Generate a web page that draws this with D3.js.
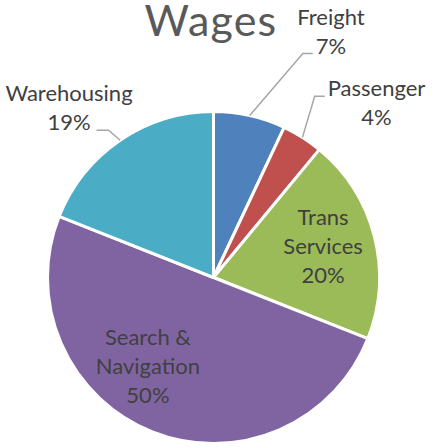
<!DOCTYPE html>
<html>
<head>
<meta charset="utf-8">
<script src="https://cdn.jsdelivr.net/npm/d3@7"></script>
<style>
  body { margin: 0; background: #fff; }
  text { font-family: Lato, "Open Sans", sans-serif; }
</style>
</head>
<body>
<div id="chart"></div>
<script>
// pie data, clockwise from 12 o'clock
const categories = ['Freight', 'Passenger', 'Trans Services', 'Search & Navigation', 'Warehousing'];
const shares = [7, 4, 20, 50, 19];
const labelLines = [['Freight'], ['Passenger'], ['Trans', 'Services'], ['Search &', 'Navigation'], ['Warehousing']];
const colors = ['#4f81bd', '#c0504d', '#9bbb59', '#8064a2', '#4bacc6'];

const w = 432;
const h = 447;
const cx = 213.5, cy = 277.5, radius = 166;
const lineH = 29;

// where each label block sits: angle (deg, clockwise from top) and distance from centre
const labelLayout = [
  { angle: 25.5, dist: 273, outside: true, leaderLine: 1, side: 'left' },
  { angle: 43, dist: 239, outside: true, leaderLine: 0, side: 'left' },
  { angle: 74, dist: 114, outside: false },
  { angle: 216.4, dist: 110.5, outside: false },
  { angle: 319.6, dist: 223, outside: true, leaderLine: 1, side: 'right' }
];

const dataset = categories.map((c, i) => ({ name: c, value: shares[i], lines: labelLines[i], color: colors[i], layout: labelLayout[i] }));

const svg = d3.select('#chart')
  .append('svg')
  .attr('width', w)
  .attr('height', h);

svg.append('text')
  .attr('x', 211)
  .attr('y', 36)
  .attr('text-anchor', 'middle')
  .style('font-size', '43px')
  .style('letter-spacing', '1.2px')
  .attr('fill', '#595959')
  .text('Wages');

const pie = d3.pie().sort(null).value(d => d.value);
const arc = d3.arc().innerRadius(0).outerRadius(radius);
const arcs = pie(dataset);

const g = svg.append('g').attr('transform', 'translate(' + cx + ',' + cy + ')');

g.selectAll('path')
  .data(arcs)
  .enter()
  .append('path')
  .attr('d', arc)
  .attr('fill', d => d.data.color)
  .attr('stroke', '#fff')
  .attr('stroke-width', 3)
  .attr('stroke-linejoin', 'round');

const polar = (deg, r) => {
  const a = deg * Math.PI / 180;
  return [Math.sin(a) * r, -Math.cos(a) * r];
};

arcs.forEach(function (d) {
  const lay = d.data.layout;
  const pct = Math.round(d.data.value) + '%';
  const lines = d.data.lines.concat([pct]);
  const [lx, ly] = polar(lay.angle, lay.dist);
  // block centre -> first baseline (cap height ~16px)
  const firstBase = ly - ((lines.length - 1) * lineH + 16) / 2 + 16;

  const t = g.append('text')
    .attr('text-anchor', 'middle')
    .attr('fill', '#404040')
    .style('font-size', '22px');
  const spans = lines.map((s, i) => t.append('tspan')
    .attr('x', lx)
    .attr('y', firstBase + i * lineH)
    .text(s));

  if (lay.outside) {
    const mid = (d.startAngle + d.endAngle) / 2 * 180 / Math.PI;
    const start = polar(mid, radius);
    const span = spans[lay.leaderLine].node();
    const len = span.getComputedTextLength();
    const yEnd = firstBase + lay.leaderLine * lineH;
    let xEnd, xElbow;
    if (lay.side === 'left') {
      xEnd = lx - len / 2 - 3;
      xElbow = xEnd - 10;
    } else {
      xEnd = lx + len / 2 + 6;
      xElbow = xEnd + 12;
    }
    g.append('polyline')
      .attr('points', [start, [xElbow, yEnd], [xEnd, yEnd]].map(p => p.join(',')).join(' '))
      .attr('fill', 'none')
      .attr('stroke', '#a6a6a6')
      .attr('stroke-width', 1.5);
  }
});
</script>
</body>
</html>
